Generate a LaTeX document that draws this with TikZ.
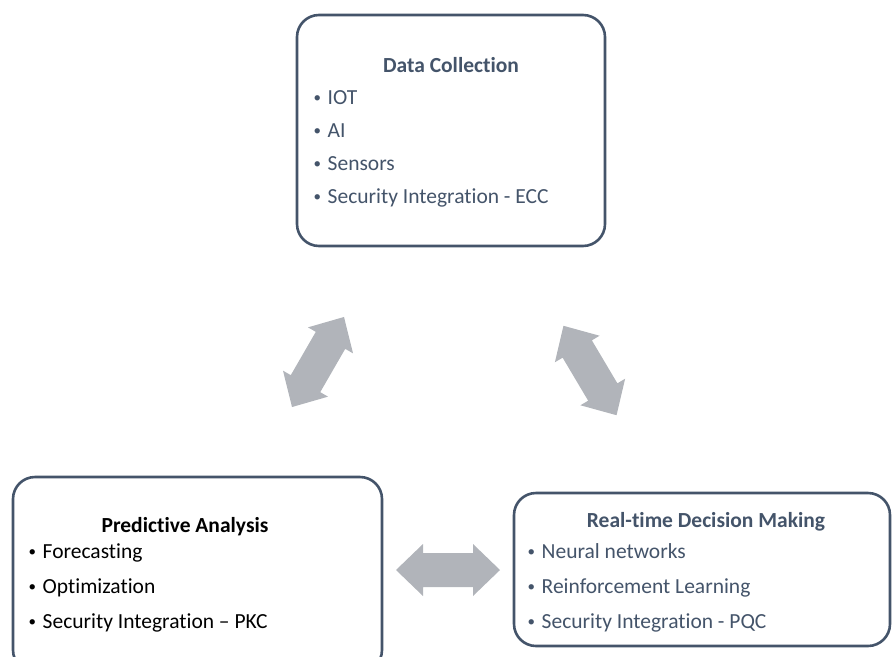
\documentclass[tikz,border=0pt]{standalone}
\usepackage{fontspec}
\setmainfont{Carlito}[Ligatures=NoCommon]
\usetikzlibrary{calc}
\definecolor{slate}{HTML}{44546A}
\definecolor{arrowgray}{HTML}{B1B4BA}
\tikzset{
  box/.style={draw=slate, line width=2.6pt, rounded corners=22pt, fill=white},
  ttl/.style={font=\bfseries\fontsize{21.5}{24}\selectfont, anchor=base, inner sep=0pt},
  itm/.style={font=\fontsize{21.5}{24}\selectfont, anchor=base west, inner sep=0pt},
  pics/blockarrow/.style={code={
    \fill[arrowgray] (-52,0) -- (-25,26) -- (-25,17) -- (25,17) -- (25,26) -- (52,0)
      -- (25,-26) -- (25,-17) -- (-25,-17) -- (-25,-26) -- cycle;}}
}
\newcommand{\bul}[1]{\makebox[14.5pt][l]{\kern0.5pt\raisebox{1.2pt}{\fontsize{15}{15}\selectfont •}}#1}
\begin{document}
\begin{tikzpicture}[x=1pt,y=1pt]
\useasboundingbox (0,0) rectangle (893,-656);
\clip (0,0) rectangle (893,-656);
% boxes
\draw[box] (297,-15) rectangle (605,-246);
\coordinate (dc) at (451,-130);
\draw[box] (13,-477) rectangle (382,-672);
\coordinate (pa) at (198,-570);
\draw[box] (514,-493) rectangle (890,-646);
\coordinate (rt) at (702,-570);
% Data Collection
\node[ttl, text=slate] (dct) at (451,-72) {Data Collection};
\node[itm, text=slate] (dc1) at (313,-104) {\bul{IOT}};
\node[itm, text=slate] (dc2) at (313,-137) {\bul{AI}};
\node[itm, text=slate] (dc3) at (313,-170) {\bul{Sensors}};
\node[itm, text=slate] (dc4) at (313,-203) {\bul{Security Integration - ECC}};
% Predictive Analysis
\node[ttl, text=black] (pat) at (185,-532) {Predictive Analysis};
\node[itm, text=black] (pa1) at (28,-558) {\bul{Forecasting}};
\node[itm, text=black] (pa2) at (28,-593) {\bul{Optimization}};
\node[itm, text=black] (pa3) at (28,-628) {\bul{Security Integration – PKC}};
% Real-time Decision Making
\node[ttl, text=slate] (rtt) at (706,-527) {Real-time Decision Making};
\node[itm, text=slate] (rt1) at (527,-558) {\bul{Neural networks}};
\node[itm, text=slate] (rt2) at (527,-593) {\bul{Reinforcement Learning}};
\node[itm, text=slate] (rt3) at (527,-628) {\bul{Security Integration - PQC}};
% block arrows
\coordinate (la1) at (292,-407); \coordinate (la2) at (344,-317);
\coordinate (ra1) at (563,-325); \coordinate (ra2) at (617,-416);
\coordinate (ha1) at (396,-570); \coordinate (ha2) at (500,-570);
\pic[rotate=60] at ($(la1)!0.5!(la2)$) {blockarrow};
\pic[rotate=-59.3] at ($(ra1)!0.5!(ra2)$) {blockarrow};
\pic at ($(ha1)!0.5!(ha2)$) {blockarrow};
\end{tikzpicture}
\end{document}
